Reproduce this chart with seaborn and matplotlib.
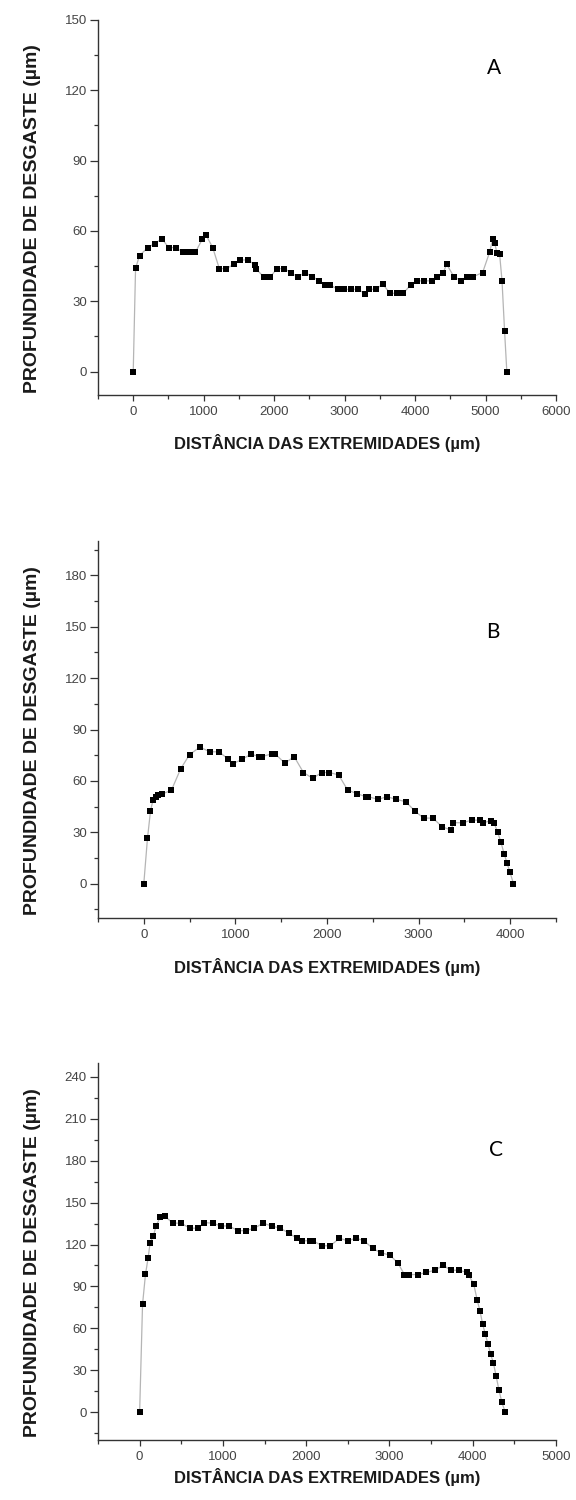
import matplotlib
matplotlib.use("Agg")
import matplotlib.pyplot as plt
from matplotlib.ticker import MultipleLocator
import seaborn as sns
import pandas as pd

# ---------------- data ----------------
A_x = [0, 33, 89, 207, 302, 406, 505, 600, 708, 788, 882, 981, 1034, 1128, 1222, 1322,
       1430, 1520, 1624, 1733, 1748, 1850, 1945, 2040, 2143, 2238, 2332, 2441, 2544,
       2643, 2720, 2790, 2904, 2998, 3092, 3187, 3290, 3347, 3442, 3541, 3645, 3739,
       3833, 3938, 4032, 4126, 4235, 4306, 4400, 4448, 4551, 4650, 4731, 4824, 4958,
       5061, 5100, 5130, 5160, 5200, 5234, 5270, 5302]
A_y = [0, 44, 49.5, 52.9, 54.6, 56.6, 52.9, 52.9, 50.9, 50.9, 50.9, 56.5, 58.2, 52.9,
       43.9, 43.9, 45.8, 47.6, 47.6, 45.5, 43.7, 40.4, 40.4, 43.9, 43.9, 42.2, 40.4,
       42.2, 40.4, 38.7, 37, 37, 35.1, 35.1, 35.1, 35.1, 33.3, 35.1, 35.1, 37.3, 33.4,
       33.4, 33.4, 37, 38.7, 38.7, 38.7, 40.5, 42.2, 45.8, 40.5, 38.7, 40.5, 40.5, 42.2,
       51.2, 56.5, 55, 50.7, 50, 38.7, 17.4, 0]

B_x = [0, 40, 73, 101, 130, 160, 199, 301, 402, 500, 612, 721, 823, 920, 975, 1069,
       1170, 1263, 1290, 1400, 1434, 1540, 1641, 1743, 1844, 1942, 2025, 2127, 2225,
       2326, 2422, 2450, 2558, 2655, 2757, 2859, 2960, 3054, 3156, 3258, 3355, 3380,
       3482, 3580, 3673, 3700, 3785, 3825, 3864, 3897, 3933, 3964, 3996, 4036]
B_y = [0, 26.4, 42.4, 49, 50.4, 51.8, 52.4, 54.5, 67, 75.4, 79.7, 77, 77, 72.7, 70.1,
       72.5, 75.6, 74.2, 74.2, 75.8, 75.8, 70.3, 74.2, 64.9, 61.5, 64.9, 64.9, 63.5,
       54.7, 52.6, 50.8, 50.8, 49.2, 50.8, 49.2, 47.9, 42.4, 38.3, 38.3, 33.2, 31.3,
       35.6, 35.6, 37.1, 37.1, 35.5, 36.7, 35.4, 29.9, 24.6, 17.6, 12.3, 7, 0]

C_x = [0, 35, 70, 102, 126, 166, 197, 246, 300, 397, 497, 604, 696, 776, 879, 975,
       1075, 1178, 1274, 1378, 1482, 1585, 1689, 1793, 1890, 1950, 2040, 2080, 2191,
       2291, 2399, 2499, 2598, 2697, 2798, 2897, 3005, 3100, 3180, 3240, 3343, 3443,
       3546, 3647, 3734, 3834, 3934, 3953, 4013, 4052, 4087, 4118, 4149, 4183, 4214,
       4249, 4280, 4315, 4350, 4390]
C_y = [0, 77.2, 98.6, 110.5, 121.3, 126.3, 133.3, 139.5, 140.5, 135.3, 135.3, 131.7,
       131.7, 135.7, 135.3, 133.3, 133.3, 129.9, 129.9, 131.7, 135.3, 133.3, 131.7,
       128.1, 124.5, 122.7, 122.7, 122.7, 119.1, 119.1, 124.5, 122.7, 124.5, 122.7,
       117.2, 114.1, 112.4, 106.9, 98.5, 98.5, 98.5, 100, 101.6, 105.2, 101.6, 101.6,
       100, 98.1, 91.4, 80.6, 72.4, 63.3, 56.1, 48.9, 41.7, 35, 26.1, 15.8, 6.9, 0]

panel_labels = ["A", "B", "C"]
x_label = "DISTÂNCIA DAS EXTREMIDADES (µm)"
y_label = "PROFUNDIDADE DE DESGASTE (µm)"

# ---------------- style ----------------
sns.set_theme(style="ticks")
plt.rcParams["font.family"] = ["Liberation Sans", "DejaVu Sans"]

fig = plt.figure(figsize=(5.76, 15.0), dpi=100)

W, H = 576.0, 1500.0
left_px, right_px = 98, 556
panels = [
    dict(x=A_x, y=A_y, top=20, bottom=395, xlim=(-500, 6000), ylim=(-10, 150),
         letter=(5118, 129.5), xl_y=-0.105),
    dict(x=B_x, y=B_y, top=541, bottom=918, xlim=(-500, 4500), ylim=(-20, 200),
         letter=(3815, 147), xl_y=-0.105),
    dict(x=C_x, y=C_y, top=1063, bottom=1440, xlim=(-500, 5000), ylim=(-20, 250),
         letter=(4280, 187.5), xl_y=-0.075),
]

spine_col = "#333333"
tick_col = "#444444"

for p, letter in zip(panels, panel_labels):
    ax = fig.add_axes([left_px / W, 1 - p["bottom"] / H,
                       (right_px - left_px) / W, (p["bottom"] - p["top"]) / H])
    df = pd.DataFrame({"x": p["x"], "y": p["y"]})
    sns.lineplot(data=df, x="x", y="y", ax=ax, color="#b5b5b5", linewidth=0.9,
                 sort=False, estimator=None)
    sns.scatterplot(data=df, x="x", y="y", ax=ax, marker="s", color="black",
                    s=23, linewidth=0, edgecolor="black", zorder=3)
    ax.set_xlim(*p["xlim"])
    ax.set_ylim(*p["ylim"])
    ax.xaxis.set_major_locator(MultipleLocator(1000))
    ax.xaxis.set_minor_locator(MultipleLocator(500))
    ax.yaxis.set_major_locator(MultipleLocator(30))
    ax.yaxis.set_minor_locator(MultipleLocator(15))
    for side in ("top", "right"):
        ax.spines[side].set_visible(False)
    for side in ("left", "bottom"):
        ax.spines[side].set_color(spine_col)
        ax.spines[side].set_linewidth(1.0)
    ax.tick_params(axis="y", which="major", length=5.5, width=0.9, color=spine_col,
                   labelsize=9.5, labelcolor=tick_col, pad=2.5, direction="out")
    ax.tick_params(axis="y", which="minor", length=3, width=0.9, color=spine_col,
                   direction="out")
    ax.tick_params(axis="x", which="major", length=4, width=0.9, color=spine_col,
                   labelsize=9.5, labelcolor=tick_col, pad=4, direction="out")
    ax.tick_params(axis="x", which="minor", length=3, width=0.9, color=spine_col,
                   direction="out")
    ax.set_xlabel(x_label, fontsize=12, fontweight="bold", color="#1a1a1a")
    ax.set_ylabel(y_label, fontsize=14, fontweight="bold", color="#1a1a1a")
    ax.xaxis.set_label_coords(0.5, p["xl_y"])
    ax.yaxis.set_label_coords(-0.125, 0.47)
    ax.text(p["letter"][0], p["letter"][1], letter, fontsize=15, ha="center",
            va="center", family=["Lato", "DejaVu Sans"], color="black")
    ax.grid(False)

fig.savefig("out.png", dpi=100)
